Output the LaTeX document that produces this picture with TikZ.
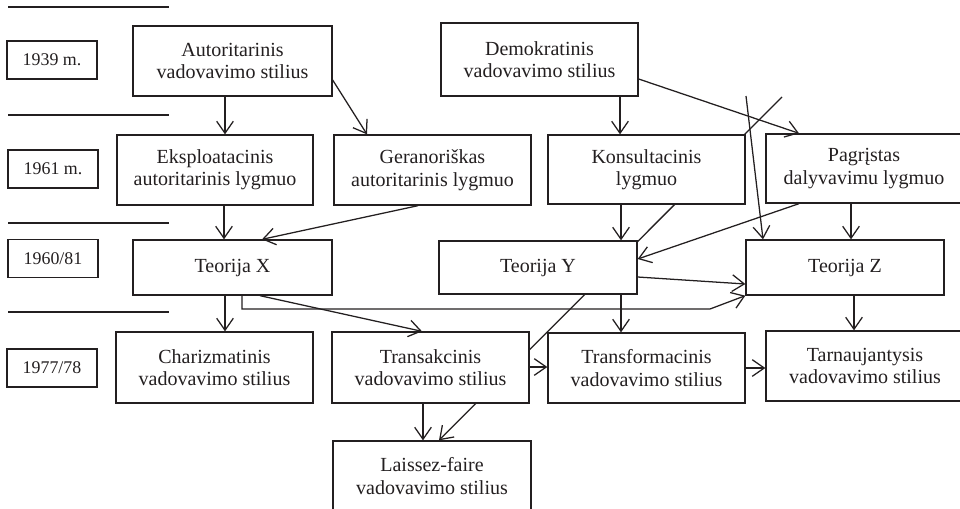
\documentclass[tikz,border=0pt]{standalone}
\usepackage{fontspec}
\setmainfont{Liberation Serif}
\usetikzlibrary{arrows.meta,backgrounds}
\definecolor{ink}{HTML}{231F20}
\begin{document}
\begin{tikzpicture}[x=0.75pt,y=-0.75pt,
  box/.style={draw=ink, fill=white, line width=1pt, align=center, text=ink,
    inner sep=0pt, font=\fontsize{15}{16.8}\selectfont},
  sz/.style 2 args={minimum width=#1*0.75pt, minimum height=#2*0.75pt},
  yearbox/.style={draw=ink, fill=white, line width=1pt, text=ink, inner sep=0pt,
    minimum width=67.5pt, minimum height=28.5pt, font=\fontsize{13.4}{15}\selectfont},
  arr/.style={draw=ink, line width=0.95pt, -{Straight Barb[length=9pt,width=12.5pt]}},
  rule/.style={draw=ink, line width=1pt}]

\useasboundingbox (0,0) rectangle (960,508);
\clip (0,0) rectangle (960,508);

% period separators on the left
\draw[rule] (8,7) -- (169,7);
\draw[rule] (8,115) -- (169,115);
\draw[rule] (8,223) -- (169,223);
\draw[rule] (8,312) -- (169,312);

% period labels
\node[yearbox] (y39) at (52,60) {1939 m.};
\node[yearbox] (y61) at (53,169) {1961 m.};
\node[yearbox] (y60) at (53,258.5) {1960/81};
\node[yearbox] (y77) at (52,368) {1977/78};

% leadership styles and theories
\node[box, sz={199}{70}] (aut) at (232.5,61) {Autoritarinis\\vadovavimo stilius};
\node[box, sz={197}{73}] (dem) at (539.5,59.5) {Demokratinis\\vadovavimo stilius};
\node[box, sz={196}{70}] (eks) at (215,170) {Eksploatacinis\\autoritarinis lygmuo};
\node[box, sz={197}{70}] (ger) at (432.5,170) {Geranoriškas\\autoritarinis lygmuo};
\node[box, sz={197}{69}] (kon) at (646.5,169.5) {Konsultacinis\\lygmuo};
\node[box, sz={196}{69}] (pag) at (864,168.5) {Pagrįstas\\dalyvavimu lygmuo};
\node[box, sz={199}{55}] (tx) at (232.5,267.5) {Teorija X};
\node[box, sz={198}{53}] (ty) at (538,267.5) {Teorija Y};
\node[box, sz={198}{55}] (tz) at (845,267.5) {Teorija Z};
\node[box, sz={197}{71}] (cha) at (214.5,367.5) {Charizmatinis\\vadovavimo stilius};
\node[box, sz={197}{71}] (tra) at (430.5,367.5) {Transakcinis\\vadovavimo stilius};
\node[box, sz={197}{70}] (tfm) at (646.5,368) {Transformacinis\\vadovavimo stilius};
\node[box, sz={198}{70}] (tar) at (865,366) {Tarnaujantysis\\vadovavimo stilius};
\node[box, sz={198}{70}] (lai) at (432,476) {Laissez-faire\\vadovavimo stilius};

% free starting points of the two long strokes
\coordinate (s1) at (782,97);
\coordinate (s2) at (746,96);

% long diagonal passes behind the boxes
\begin{pgfonlayer}{background}
  \draw[arr] (s1) -- (lai.north -| 439,0);
\end{pgfonlayer}
\draw[arr] (s2) -- (tz.north -| 763,0);

% connectors
\draw[arr] (aut.south -| 225,0) -- (eks.north -| 225,0);
\draw[arr] (aut.east |- 0,80) -- (ger.north -| 367,0);
\draw[arr] (dem.south -| 620,0) -- (kon.north -| 620,0);
\draw[arr] (dem.east |- 0,79) -- (pag.north -| 799,0);
\draw[arr] (eks.south -| 224,0) -- (tx.north -| 224,0);
\draw[arr] (ger.south -| 418,0) -- (tx.north -| 262,0);
\draw[arr] (kon.south -| 621,0) -- (ty.north -| 621,0);
\draw[arr] (pag.south -| 799,0) -- (ty.east |- 0,259);
\draw[arr] (pag.south -| 851,0) -- (tz.north -| 851,0);
\draw[arr] (tx.south -| 225,0) -- (cha.north -| 225,0);
\draw[arr] (tx.south -| 260,0) -- (tra.north -| 422,0);
\draw[arr] (tx.south -| 242,0) |- (710,309) -- (tz.south west);
\draw[arr] (ty.east |- 0,277) -- (tz.west |- 0,284);
\draw[arr] (ty.south -| 621,0) -- (tfm.north -| 621,0);
\draw[arr] (tz.south -| 854,0) -- (tar.north -| 854,0);
\draw[arr] (tra.east |- 0,367) -- (tfm.west |- 0,367);
\draw[arr] (tfm.east |- 0,368) -- (tar.west |- 0,368);
\draw[arr] (tra.south -| 423,0) -- (lai.north -| 423,0);
\end{tikzpicture}
\end{document}
